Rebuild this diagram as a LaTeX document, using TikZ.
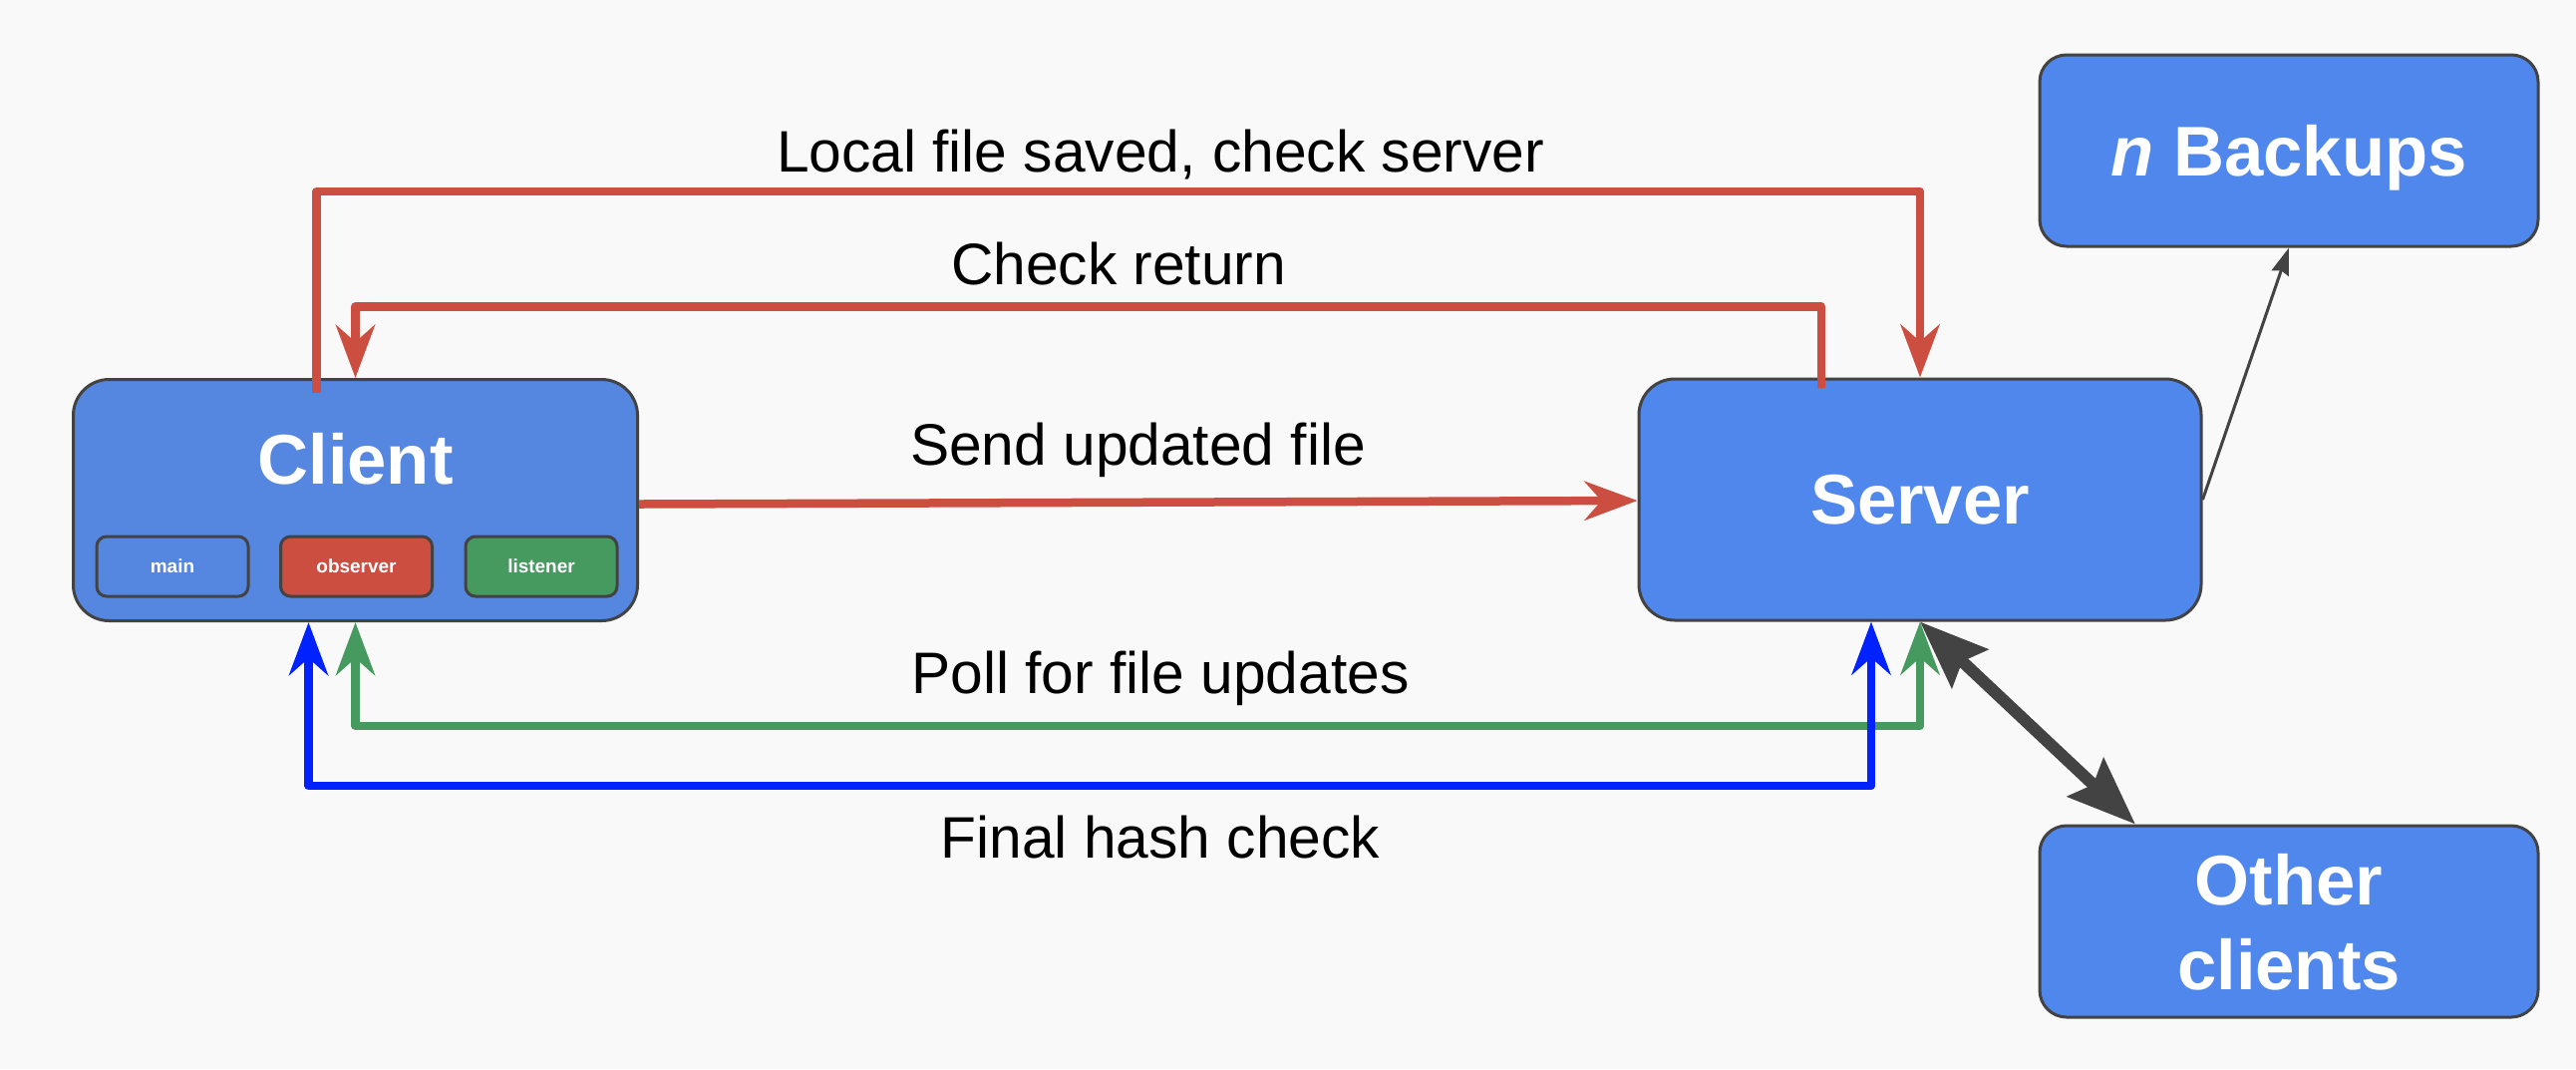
\documentclass[tikz,border=0pt]{standalone}
\usepackage{fontspec}
\setmainfont{Liberation Sans}
\usetikzlibrary{arrows.meta,calc}

\definecolor{pagebg}{HTML}{F9F9F9}
\definecolor{clientblue}{HTML}{5586E0}
\definecolor{serverblue}{HTML}{5087EC}
\definecolor{edgegray}{HTML}{434343}
\definecolor{saveRed}{HTML}{CC4E40}
\definecolor{pollGreen}{HTML}{479A5F}
\definecolor{hashBlue}{HTML}{0022FF}

\begin{document}
\begin{tikzpicture}[
    x = 0.1mm, y = -0.1mm, % one unit per pixel, y pointing down
    line join = round,
    box/.style = {draw = edgegray, line width = 0.3mm, rounded corners = 3.6mm,
        fill = serverblue, text = white, align = center, text depth = 0pt,
        font = \fontsize{20.1}{24.2}\selectfont\bfseries},
    smallbox/.style = {box, rounded corners = 2.7mm,
        minimum width = 50mm, minimum height = 19.2mm},
    part/.style = {draw = edgegray, line width = 0.3mm, rounded corners = 1mm,
        minimum width = 15.2mm, minimum height = 6mm, text = white,
        font = \fontsize{5.4}{6.5}\selectfont\bfseries},
    msg/.style = {anchor = base, font = \fontsize{16.7}{20}\selectfont},
    flow/.style = {line width = 0.85mm,
        > = {Stealth[length = 5.3mm, width = 3.9mm, inset = 1.7mm]}},
    sync/.style = {edgegray, line width = 1.2mm,
        > = {Stealth[length = 6.8mm, width = 5.2mm, inset = 1mm]}},
    backup/.style = {edgegray, line width = 0.3mm,
        > = {Stealth[length = 2.7mm, width = 1.8mm, inset = 0.3mm]}}
]

% Page
\fill[pagebg] (0, 0) rectangle (2584, 1072);

% Nodes
\node[box, fill = clientblue, minimum width = 56.6mm, minimum height = 24.2mm] (client) at (356.5, 501.5) {};
\node[anchor = base, text = white, font = \fontsize{20.1}{24.2}\selectfont\bfseries] (clientname) at (356.5, 485) {Client};
\node[part, fill = clientblue] (mainpart) at (173, 568) {main};
\node[part, fill = saveRed] (observerpart) at (357.5, 568) {observer};
\node[part, fill = pollGreen] (listenerpart) at (543, 568) {listener};

\node[box, minimum width = 56.4mm, minimum height = 24.2mm] (server) at (1926, 501) {Server};
\node[smallbox] (backups) at (2296, 151) {\textit{n} Backups};
\node[smallbox] (others) at (2296, 924) {Other\\clients};

% Labels
\node[msg] (savedlabel) at (1164, 172) {Local file saved, check server};
\node[msg] (returnlabel) at (1122, 285) {Check return};
\node[msg] (sendlabel) at (1141.5, 466) {Send updated file};
\node[msg] (polllabel) at (1164, 695) {Poll for file updates};
\node[msg] (hashlabel) at (1164, 860) {Final hash check};

% Edges
\draw[flow, ->, saveRed, shorten < = -1.5mm] ($(client.north) + (-39, 0)$) -- ++(0, -187) -| (server.north);
\draw[flow, ->, saveRed, shorten < = -1mm] ($(server.north) + (-99, 0)$) -- ++(0, -71) -| (client.north);
\draw[flow, ->, saveRed] ($(client.east) + (0, 4)$) -- ($(server.west) + (0, 1)$);
\draw[flow, <->, pollGreen] (client.south) -- ++(0, 104) -| (server.south);
\draw[flow, <->, hashBlue] ($(client.south) + (-47, 0)$) -- ++(0, 164) -| ($(server.south) + (-49, 0)$);
\draw[backup, ->] (server.east) -- (backups.south);
\draw[sync, <->] (server.south) -- ($(others.north) + (-154, 0)$);

\end{tikzpicture}
\end{document}
